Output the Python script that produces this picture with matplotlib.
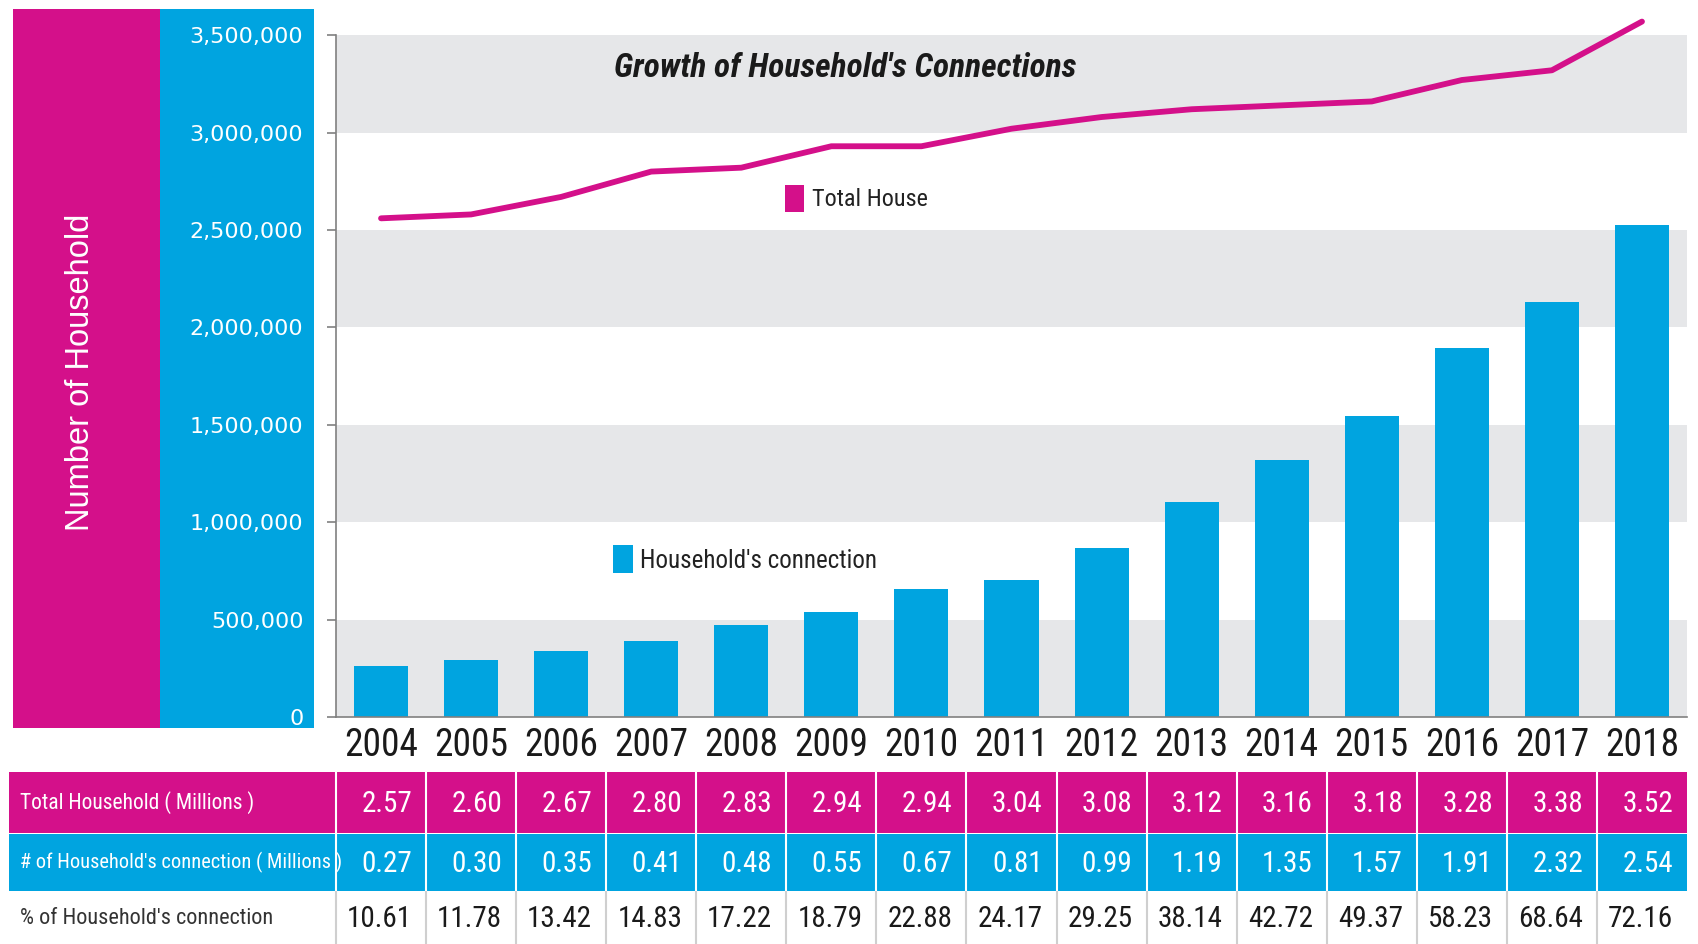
import matplotlib
matplotlib.use('Agg')
import matplotlib.pyplot as plt
from matplotlib.patches import Rectangle

years = [str(y) for y in range(2004, 2019)]
# table rows, as printed under the chart
total_millions = ['2.57', '2.60', '2.67', '2.80', '2.83', '2.94', '2.94', '3.04',
                  '3.08', '3.12', '3.16', '3.18', '3.28', '3.38', '3.52']
conn_millions = ['0.27', '0.30', '0.35', '0.41', '0.48', '0.55', '0.67', '0.81',
                 '0.99', '1.19', '1.35', '1.57', '1.91', '2.32', '2.54']
conn_pct = ['10.61', '11.78', '13.42', '14.83', '17.22', '18.79', '22.88', '24.17',
            '29.25', '38.14', '42.72', '49.37', '58.23', '68.64', '72.16']
# values as drawn in the plot
total_house = [2560000, 2580000, 2670000, 2800000, 2820000, 2930000, 2930000, 3020000,
               3080000, 3120000, 3140000, 3160000, 3270000, 3320000, 3570000]
household_conn = [262000, 294000, 340000, 392000, 470000, 540000, 656000, 705000,
                  867000, 1105000, 1317000, 1544000, 1894000, 2128000, 2528000]
row_labels = ['Total Household ( Millions )',
              "# of Household's connection ( Millions )",
              "% of Household's connection"]

MAG = '#d4108a'
BLUE = '#00a4e0'
BAND = '#e6e7e9'
AXC = '#808080'
NARROW = ['Roboto Condensed', 'Liberation Sans', 'DejaVu Sans']

W, H = 1699, 944
fig = plt.figure(figsize=(W / 100, H / 100), dpi=100)


def fx(px):
    return px / W


def fy(py):
    # py measured from the top of the picture
    return 1 - py / H


# left coloured panels
fig.add_artist(Rectangle((fx(13), fy(728)), fx(160 - 13), (728 - 9) / H,
                         transform=fig.transFigure, color=MAG, lw=0, zorder=-5))
fig.add_artist(Rectangle((fx(160), fy(728)), fx(314 - 160), (728 - 9) / H,
                         transform=fig.transFigure, color=BLUE, lw=0, zorder=-5))
fig.text(fx(81), fy(372), 'Number of Household', rotation=90, color='white',
         fontsize=23.5, ha='center', va='center', family='Liberation Sans')

# main chart
ax = fig.add_axes([fx(336), 227 / H, fx(1687 - 336), 711 / H])
ax.set_facecolor('none')
x = list(range(len(years)))
for lo in [0, 1000000, 2000000, 3000000]:
    ax.axhspan(lo, lo + 500000, color=BAND, lw=0, zorder=0)
ax.bar(x, household_conn, width=0.6, color=BLUE, zorder=2)
ax.plot(x, total_house, color=MAG, lw=4.2, zorder=3, solid_capstyle='round')
ax.set_xlim(-0.5, 14.5)
ax.set_ylim(0, 3650000)

for s in ['top', 'right']:
    ax.spines[s].set_visible(False)
ax.spines['left'].set_bounds(0, 3500000)
for s in ['left', 'bottom']:
    ax.spines[s].set_color(AXC)
    ax.spines[s].set_linewidth(1.2)

yt = list(range(0, 3500001, 500000))
ax.set_yticks(yt)
ax.set_yticklabels([f'{v:,}' for v in yt], color='white', fontsize=16,
                   family='DejaVu Sans')
ax.tick_params(axis='y', length=6.5, width=1.2, color=AXC, pad=17)
ax.set_xticks(x)
ax.set_xticklabels(years, fontsize=27, family=NARROW, color='#1a1a1a')
ax.tick_params(axis='x', length=0, pad=7)

fig.text(fx(845), fy(68), "Growth of Household's Connections", fontsize=24,
         fontweight='bold', fontstyle='italic', family=NARROW,
         ha='center', va='center', color='#1a1a1a')

# legend squares
fig.add_artist(Rectangle((fx(785), fy(212)), fx(19), 27 / H,
                         transform=fig.transFigure, color=MAG, lw=0))
fig.text(fx(812), fy(199), 'Total House', fontsize=17.5, family=NARROW,
         ha='left', va='center', color='#222222')
fig.add_artist(Rectangle((fx(613), fy(573)), fx(20), 28 / H,
                         transform=fig.transFigure, color=BLUE, lw=0))
fig.text(fx(640), fy(561), "Household's connection", fontsize=18, family=NARROW,
         ha='left', va='center', color='#222222')

# data table
slot = (1687 - 336) / 15
tx0 = -0.5 - 336 / slot
tx1 = 14.5 + (W - 1687) / slot
ax_t = fig.add_axes([0, 0, 1, 172 / H])
ax_t.set_xlim(tx0, tx1)
ax_t.set_ylim(0, 172)
ax_t.axis('off')

head_left = tx0 + 9 / slot
rows = [
    (111, 172, MAG, 'white', 'white', total_millions, 15.5),
    (53, 110, BLUE, 'white', 'white', conn_millions, 14.7),
    (0, 52, 'white', '#cfcfcf', '#1a1a1a', conn_pct, 16),
]
for (lo, hi, bg, sep, fg, vals, hfs), label in zip(rows, row_labels):
    ax_t.add_patch(Rectangle((head_left, lo), 14.5 - head_left, hi - lo,
                             color=bg, lw=0))
    for i in range(len(years)):
        ax_t.plot([i - 0.5, i - 0.5], [lo, hi], color=sep, lw=1.5)
        ax_t.text(i + 0.5 - 14 / slot, (lo + hi) / 2 - 1, vals[i], ha='right',
                  va='center', fontsize=21, family=NARROW, color=fg)
    ax_t.text(head_left + 11 / slot, (lo + hi) / 2, label, ha='left', va='center',
              fontsize=hfs, family=NARROW, color=fg if bg != 'white' else '#333333')

fig.savefig('out.png', dpi=100)
